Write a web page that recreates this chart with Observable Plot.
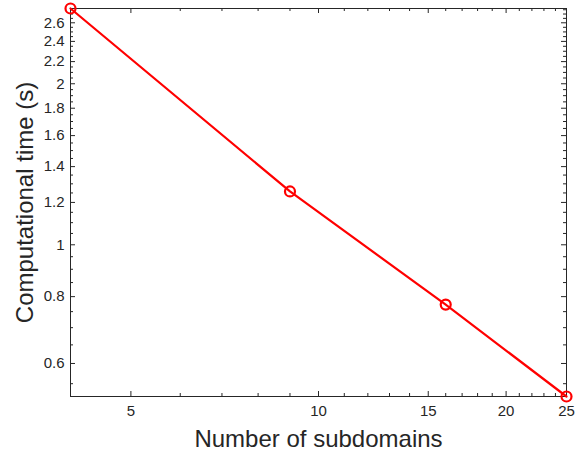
<!DOCTYPE html>
<html>
<head>
<meta charset="utf-8">
<script src="https://cdn.jsdelivr.net/npm/d3@7"></script>
<script src="https://cdn.jsdelivr.net/npm/@observablehq/plot@0.6"></script>
<style>
  html, body { margin: 0; padding: 0; background: #fff; }
  #chart svg { display: block; }
</style>
</head>
<body>
<div id="chart"></div>
<script>
// Data
const subdomains = [4, 9, 16, 25];
const compTime = [2.765, 1.258, 0.773, 0.5205];

// Tick values
const xMajorTicks = [5, 10, 15, 20, 25];
const xMinorTicks = [4, 6, 7, 8, 9, 11, 12, 13, 14, 16, 17, 18, 19, 21, 22, 23, 24];
const yMajorTicks = [0.6, 0.8, 1, 1.2, 1.4, 1.6, 1.8, 2, 2.2, 2.4, 2.6];
const yMinorTicks = [0.55, 0.65, 0.7, 0.75, 0.85, 0.9, 0.95, 1.05, 1.1, 1.15, 1.25, 1.3, 1.35,
  1.45, 1.5, 1.55, 1.65, 1.7, 1.75, 1.85, 1.9, 1.95, 2.05, 2.1, 2.15, 2.25, 2.3, 2.35,
  2.45, 2.5, 2.55, 2.65, 2.7, 2.75];

const xTitle = "Number of subdomains";
const yTitle = "Computational time (s)";

const data = subdomains.map((x, i) => ({x, y: compTime[i]}));

const W = 583, H = 458;
const mL = 70, mR = 17, mT = 8, mB = 62;
const fw = W - mL - mR, fh = H - mT - mB;
const axisColor = "#262626";
const majorLen = 5, minorLen = 3;

const plot = Plot.plot({
  width: W,
  height: H,
  marginLeft: mL,
  marginRight: mR,
  marginTop: mT,
  marginBottom: mB,
  style: {fontFamily: "'Liberation Sans', Arial, Helvetica, sans-serif", background: "#fff", color: axisColor},
  x: {type: "log", domain: d3.extent(subdomains)},
  y: {type: "log", domain: d3.extent(compTime)},
  marks: [
    // inward ticks on all four sides
    Plot.tickX(xMajorTicks, {x: d => d, insetTop: fh - majorLen, stroke: axisColor}),
    Plot.tickX(xMajorTicks, {x: d => d, insetBottom: fh - majorLen, stroke: axisColor}),
    Plot.tickX(xMinorTicks, {x: d => d, insetTop: fh - minorLen, stroke: axisColor}),
    Plot.tickX(xMinorTicks, {x: d => d, insetBottom: fh - minorLen, stroke: axisColor}),
    Plot.tickY(yMajorTicks, {y: d => d, insetRight: fw - majorLen, stroke: axisColor}),
    Plot.tickY(yMajorTicks, {y: d => d, insetLeft: fw - majorLen, stroke: axisColor}),
    Plot.tickY(yMinorTicks, {y: d => d, insetRight: fw - minorLen, stroke: axisColor}),
    Plot.tickY(yMinorTicks, {y: d => d, insetLeft: fw - minorLen, stroke: axisColor}),
    Plot.frame({stroke: axisColor, strokeWidth: 1}),
    Plot.axisX({
      ticks: xMajorTicks, tickSize: 0, tickPadding: 9, tickFormat: d => String(d),
      fontSize: 15, color: axisColor,
      label: xTitle, labelAnchor: "center", labelArrow: "none", labelOffset: 50
    }),
    Plot.axisY({
      ticks: yMajorTicks, tickSize: 0, tickPadding: 6, tickFormat: d => String(d),
      fontSize: 15, color: axisColor,
      label: yTitle, labelAnchor: "center", labelArrow: "none", labelOffset: 55
    }),
    Plot.line(data, {x: "x", y: "y", stroke: "#ff0000", strokeWidth: 2.2}),
    Plot.dot(data, {x: "x", y: "y", r: 5, stroke: "#ff0000", strokeWidth: 2.2, fill: "none"})
  ]
});

// force font sizes: titles 24px, tick labels 15px
plot.querySelectorAll("text").forEach(t => {
  const txt = t.textContent;
  const isTitle = txt === xTitle || txt === yTitle;
  t.style.fontSize = isTitle ? "24px" : "15px";
  t.style.fill = axisColor;
});

document.getElementById("chart").appendChild(plot);
</script>
</body>
</html>
